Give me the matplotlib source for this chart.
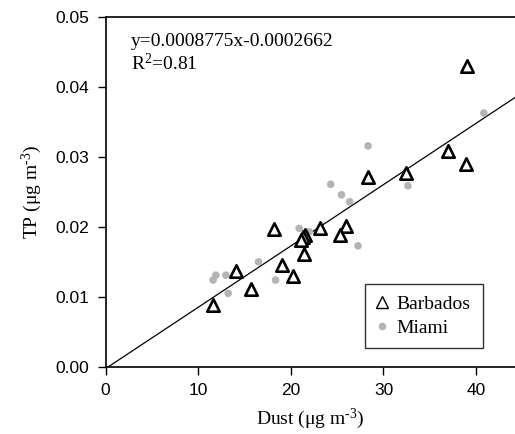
import matplotlib
matplotlib.use("Agg")
import matplotlib.pyplot as plt
import numpy as np
from matplotlib.lines import Line2D

barbados_dust = [39.05, 37.0, 38.9, 28.3, 32.4, 18.16, 23.19, 26.0, 25.35, 21.57,
                 21.3, 21.14, 21.39, 19.09, 20.24, 14.06, 15.64, 11.54]
barbados_tp = [0.0431, 0.0308, 0.0290, 0.0272, 0.0277, 0.01966, 0.0199, 0.0202, 0.0189, 0.0189,
               0.0185, 0.0181, 0.0161, 0.0145, 0.0130, 0.0137, 0.0111, 0.0088]

miami_dust = [40.84, 28.33, 24.3, 32.64, 25.46, 26.35, 20.89, 21.97, 27.25, 16.5,
              18.34, 11.9, 11.6, 12.98, 13.23]
miami_tp = [0.0363, 0.0316, 0.0261, 0.0259, 0.0246, 0.0236, 0.0198, 0.0193, 0.0173, 0.0150,
            0.0124, 0.0131, 0.0124, 0.0131, 0.0105]

slope = 0.0008775
intercept = -0.0002662
x_ticks = [0, 10, 20, 30, 40]
y_ticks = [0.00, 0.01, 0.02, 0.03, 0.04, 0.05]

serif = "Liberation Serif"
sans = "Liberation Sans"

plt.rcParams["mathtext.fontset"] = "custom"
plt.rcParams["mathtext.rm"] = serif
plt.rcParams["mathtext.it"] = serif + ":italic"
plt.rcParams["mathtext.bf"] = serif + ":bold"

fig = plt.figure(figsize=(5.15, 4.34), dpi=100)
ax = fig.add_axes([0.2052, 0.1551, 0.7948, 0.8050])

xl = np.array([0, 44.2])
ax.plot(xl, slope * xl + intercept, color="black", lw=0.9, zorder=2)

ax.scatter(miami_dust, miami_tp, s=30, color="#b4b4b4", edgecolors="none", zorder=3)
ax.scatter(barbados_dust, barbados_tp, s=80, marker="^", facecolors="white",
           edgecolors="black", linewidths=1.9, zorder=4)

ax.set_xlim(0, 44.2)
ax.set_ylim(0, 0.05)
ax.set_xticks(x_ticks)
ax.set_yticks(y_ticks)
ax.set_yticklabels([f"{v:.2f}" for v in y_ticks])
ax.spines["right"].set_visible(False)
for s in ["left", "bottom", "top"]:
    ax.spines[s].set_linewidth(1.2)
ax.tick_params(direction="out", length=6, width=1, labelsize=12.5, pad=6)
for lab in ax.get_xticklabels() + ax.get_yticklabels():
    lab.set_fontfamily(sans)

ax.set_xlabel(r"Dust (μg m$^{\text{-3}}$)", fontfamily=serif, fontsize=14, labelpad=6)
ax.set_ylabel(r"TP (μg m$^{\text{-3}}$)", fontfamily=serif, fontsize=14, labelpad=8)

ax.text(0.062, 0.955, "y=0.0008775x-0.0002662\nR$^{\\text{2}}$=0.81", transform=ax.transAxes,
        fontfamily=serif, fontsize=14, va="top", ha="left", linespacing=1.15)

handles = [Line2D([], [], marker="^", ls="none", mfc="white", mec="black", mew=1.0, ms=8),
           Line2D([], [], marker="o", ls="none", mfc="#b4b4b4", mec="none", ms=5.5)]
leg = ax.legend(handles, ["Barbados", "Miami"], loc="lower left",
                bbox_to_anchor=(0.6335, 0.0544, 0.2875, 0.1843), mode="expand",
                prop={"family": serif, "size": 14}, frameon=True, fancybox=False,
                edgecolor="black", handlelength=0.7, handletextpad=0.35,
                borderpad=0.55, labelspacing=0.35, borderaxespad=0)
leg.get_frame().set_linewidth(1.0)

fig.savefig("out.png", dpi=100)
